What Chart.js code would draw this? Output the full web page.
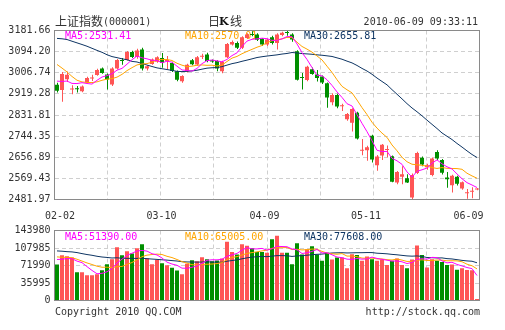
<!DOCTYPE html>
<html>
<head>
<meta charset="utf-8">
<title>上证指数 日K线</title>
<script src="https://cdn.jsdelivr.net/npm/chart.js@4.4.1/dist/chart.umd.min.js"></script>
<style>
  html, body { margin: 0; padding: 0; background: #ffffff; }
  #wrap { position: relative; width: 505px; height: 330px; overflow: hidden; }
  #wrap canvas { position: absolute; left: 0; }
  #priceCanvas { top: 0; }
  #volumeCanvas { top: 215px; }
</style>
</head>
<body>
<div id="wrap">
  <canvas id="priceCanvas" width="505" height="225"></canvas>
  <canvas id="volumeCanvas" width="505" height="115"></canvas>
</div>
<script>
// ---- Shanghai Composite (000001), daily sessions 2010-02-02 .. 2010-06-09 ----
const dates = [
  '02-02','02-03','02-04','02-05','02-08','02-09','02-10','02-11','02-12','02-22','02-23','02-24','02-25','02-26',
  '03-01','03-02','03-03','03-04','03-05','03-08','03-09','03-10','03-11','03-12','03-15','03-16','03-17','03-18','03-19',
  '03-22','03-23','03-24','03-25','03-26','03-29','03-30','03-31',
  '04-01','04-02','04-06','04-07','04-08','04-09','04-12','04-13','04-14','04-15','04-16','04-19','04-20','04-21','04-22','04-23',
  '04-26','04-27','04-28','04-29','04-30',
  '05-04','05-05','05-06','05-07','05-10','05-11','05-12','05-13','05-14','05-17','05-18','05-19','05-20','05-21',
  '05-24','05-25','05-26','05-27','05-28','05-31',
  '06-01','06-02','06-03','06-04','06-07','06-08','06-09'
];

const opens = [
  2957,2935,2980,2937,2942,2930,2966,2983,2997,3024,
  2999,2958,3024,3058,3060,3093,3072,3103,3024,3043,
  3052,3068,3055,3047,3013,2972,3012,3058,3041,3073,
  3082,3058,3055,3013,3071,3124,3130,3110,3151,3167,
  3165,3147,3124,3154,3130,3163,3175,3165,3096,2988,
  2977,3021,2999,2991,2963,2885,2915,2868,2814,2800,
  2841,2684,2686,2746,2624,2664,2687,2661,2552,2576,
  2570,2490,2592,2655,2616,2583,2679,2645,2573,2541,
  2576,2527,2508,2514,2523
];
const highs = [
  2965,3010,3012,2955,2952,2954,2990,2998,3023,3028,
  3004,3030,3064,3068,3097,3098,3106,3110,3038,3066,
  3075,3089,3076,3052,3016,2996,3044,3064,3076,3085,
  3090,3062,3058,3056,3130,3140,3136,3158,3170,3179,
  3170,3150,3148,3160,3170,3176,3181.66,3170,3100,3006,
  3036,3028,3018,2995,2966,2922,2920,2878,2840,2860,
  2845,2732,2704,2750,2666,2712,2706,2664,2600,2620,
  2587,2590,2680,2660,2630,2656,2686,2650,2596,2584,
  2580,2556,2525,2533,2530
];
const lows = [
  2925,2887,2968,2918,2925,2926,2962,2973,2994,3003,
  2937,2952,3020,3040,3057,3068,3065,3016,3016,3040,
  3048,3027,3021,3010,2972,2965,3008,3038,3036,3064,
  3050,3048,3013,3005,3068,3120,3105,3105,3147,3158,
  3138,3118,3118,3124,3103,3158,3160,3135,2975,2937,
  2972,2998,2970,2960,2862,2872,2860,2848,2808,2763,
  2730,2665,2642,2635,2601,2645,2657,2553,2545,2545,
  2550,2481.97,2588,2620,2605,2578,2645,2585,2531,2511,
  2540,2522,2485,2487,2520
];
const closes = [
  2932,3002,2998,2940,2938,2950,2985,2986,3018,3006,
  2979,3024,3060,3055,3093,3072,3099,3024,3034,3062,
  3071,3048,3058,3014,2978,2993,3040,3042,3071,3076,
  3055,3053,3024,3052,3126,3134,3110,3154,3165,3163,
  3143,3124,3144,3130,3165,3172,3171,3144,2978,2985,
  3032,3002,2985,2966,2904,2915,2867,2871,2836,2857,
  2735,2688,2698,2648,2660,2709,2690,2555.8,2596,2587,
  2552,2583.5,2675,2627,2624,2652,2652,2593,2566,2580,
  2547.30,2553.47,2511.82,2517.12,2527.34
];
const volumes = [
  74000,93200,91200,88400,58300,58300,52100,52100,54200,62400,
  74700,85000,109700,93200,101500,96700,107600,115900,86400,74700,
  83600,76800,72700,67200,61700,54200,75400,83000,80900,89100,
  85000,80900,82300,86400,120700,100000,94600,115900,112400,107600,
  100000,100000,98000,126000,133000,98000,98000,74700,118000,94600,
  105600,111800,94600,81600,98000,84100,88500,88500,66200,95300,
  93700,81800,90700,84800,81800,84100,72900,81800,86300,72900,
  66200,84100,113000,93700,67790,85000,82000,79000,73000,74100,
  63000,66500,62500,62000,2950
];

// sessions before 02-02 (late Dec 2009 .. 02-01), used only to seed the moving averages
const prevCloses = [
  3049,3089,3153,3141,3154,3201,3241,3277,
  3244,3282,3254,3193,3196,3213,3274,3173,3216,3224,3237,3247,
  3151,3158,3128,3094,3019,3008,2990,2989,2941
];
const prevVolumes = [
  112000,118500,104300,99800,121000,109600,98700,115200,107400,101900,
  118800,96500,124300,103700,99100,110800,105600,112900,97800,105100,
  101200,92700,96800,88400,96400,90300,84600,89100,83500
];

// axis tick labels
const priceTicks = [3181.66, 3094.20, 3006.74, 2919.28, 2831.81, 2744.35, 2656.89, 2569.43, 2481.97];
const volumeTicks = [143980, 107985, 71990, 35995, 0];
const xTickLabels = ['02-02', '03-10', '04-09', '05-11', '06-09'];

// ---- styling / layout ----
const RED = '#ff5555';
const GREEN = '#008f00';
const MA5_COLOR = '#ff00ff';
const MA10_COLOR = '#ffa500';
const MA30_COLOR = '#0e3563';
const GRID = '#cfcfcf';
const FRAME = '#8a8a8a';
const TEXT = '#333333';
const MONO = '"DejaVu Sans Mono", "Liberation Mono", monospace';
const CJK = '"Noto Sans CJK SC", "Noto Sans", sans-serif';
const N = dates.length;
const PLOT_LEFT = 54.5;      // width reserved for the value axis
const PLOT_RIGHT_PAD = 25.5;
const X_LABEL_POS = [0.6, 20.9, 41.5, 61.8, 82.3]; // where the date captions sit, in session units

function movingAverage(series, history, n) {
  const all = history.concat(series);
  const off = history.length;
  return series.map((_, i) => {
    let s = 0;
    for (let k = off + i - n + 1; k <= off + i; k++) s += all[k];
    return s / n;
  });
}

const ma5 = movingAverage(closes, prevCloses, 5);
const ma10 = movingAverage(closes, prevCloses, 10);
const ma30 = movingAverage(closes, prevCloses, 30);
const vma5 = movingAverage(volumes, prevVolumes, 5);
const vma10 = movingAverage(volumes, prevVolumes, 10);
const vma30 = movingAverage(volumes, prevVolumes, 30);

const candleColors = closes.map((c, i) => (c >= opens[i] ? RED : GREEN));
const pts = arr => arr.map((v, i) => ({ x: i, y: v }));

// shared x-axis pieces
function gridXAxis(height) {
  return {
    type: 'linear', position: 'bottom', min: -0.5, max: N - 0.5, offset: false,
    grid: { color: GRID, lineWidth: 1, drawTicks: false, offset: false },
    border: { display: false, dash: [4, 3] },
    ticks: { display: false },
    afterBuildTicks(s) { s.ticks = Array.from({ length: 9 }, (_, k) => ({ value: -0.5 + k * N / 8 })); },
    afterFit(s) { s.height = height; }
  };
}
function valueAxis(ticks, fmt) {
  return {
    type: 'linear', position: 'left', min: ticks[ticks.length - 1], max: ticks[0],
    grid: { color: GRID, lineWidth: 1, drawTicks: false },
    border: { display: false, dash: [4, 3] },
    ticks: { font: { family: MONO, size: 10 }, color: TEXT, padding: 4, callback: fmt },
    afterBuildTicks(s) { s.ticks = ticks.map(v => ({ value: v })); },
    afterFit(s) { s.width = PLOT_LEFT; }
  };
}
function maLine(data, color) {
  return {
    type: 'line', data: pts(data), xAxisID: 'x', yAxisID: 'y',
    borderColor: color, borderWidth: 1, pointRadius: 0, tension: 0, order: 0, fill: false
  };
}
function frame(chart) {
  const { left, top, right, bottom } = chart.chartArea;
  const ctx = chart.ctx;
  ctx.save();
  ctx.strokeStyle = FRAME;
  ctx.lineWidth = 1;
  ctx.strokeRect(left, top, right - left, bottom - top);
  ctx.restore();
}
function maCaptions(chart, y, items) {
  const ctx = chart.ctx;
  ctx.save();
  ctx.font = '10px ' + MONO;
  ctx.textBaseline = 'middle';
  ctx.textAlign = 'left';
  items.forEach(([text, x, color]) => { ctx.fillStyle = color; ctx.fillText(text, x, y); });
  ctx.restore();
}

// ---- price (K-line) chart ----
const pricePlugin = {
  id: 'priceDecor',
  beforeDatasetsDraw(chart) {
    maCaptions(chart, 36, [
      ['MA5:' + ma5[N - 1].toFixed(2), 65, MA5_COLOR],
      ['MA10:' + ma10[N - 1].toFixed(2), 185, MA10_COLOR],
      ['MA30:' + ma30[N - 1].toFixed(2), 304, MA30_COLOR]
    ]);
  },
  afterDraw(chart) {
    frame(chart);
    const ctx = chart.ctx;
    ctx.save();
    ctx.textBaseline = 'middle';
    ctx.fillStyle = TEXT;
    ctx.textAlign = 'left';
    ctx.font = '12px ' + CJK;
    ctx.fillText('上证指数', 55, 21.5);
    const w = ctx.measureText('上证指数').width;
    ctx.font = '10px ' + MONO;
    ctx.fillText('(000001)', 55 + w, 22);
    // 日K线
    ctx.font = '12px ' + CJK;
    ctx.fillText('日', 208, 21.5);
    ctx.font = 'bold 11px "DejaVu Serif", serif';
    ctx.fillStyle = '#111111';
    ctx.fillText('K', 219, 22);
    ctx.fillStyle = TEXT;
    ctx.font = '12px ' + CJK;
    ctx.fillText('线', 230, 21.5);
    ctx.font = '10px ' + MONO;
    ctx.textAlign = 'right';
    ctx.fillText('2010-06-09 09:33:11', 478, 22);
    ctx.restore();
  }
};

new Chart(document.getElementById('priceCanvas'), {
  type: 'bar',
  data: {
    datasets: [
      maLine(ma5, MA5_COLOR),
      maLine(ma10, MA10_COLOR),
      maLine(ma30, MA30_COLOR),
      {
        type: 'bar', data: opens.map((o, i) => ({ x: i, y: [o, closes[i]] })),
        xAxisID: 'x', yAxisID: 'y', backgroundColor: candleColors, borderWidth: 0,
        barThickness: 4, grouped: false, minBarLength: 1, inflateAmount: 0, order: 1
      },
      {
        type: 'bar', data: lows.map((l, i) => ({ x: i, y: [l, highs[i]] })),
        xAxisID: 'xw', yAxisID: 'y', backgroundColor: candleColors, borderWidth: 0,
        barThickness: 1, grouped: false, minBarLength: 1, inflateAmount: 0, order: 2
      }
    ]
  },
  options: {
    responsive: false, maintainAspectRatio: false, animation: false, devicePixelRatio: 1, events: [],
    layout: { padding: { top: 30.5, right: PLOT_RIGHT_PAD, bottom: 0, left: 0 } },
    plugins: { legend: { display: false }, tooltip: { enabled: false } },
    scales: {
      x: gridXAxis(0),
      xl: {
        type: 'linear', position: 'bottom', min: -0.5, max: N - 0.5, offset: false,
        grid: { display: false, drawTicks: false }, border: { display: false },
        ticks: {
          font: { family: MONO, size: 10 }, color: TEXT, padding: 11, maxRotation: 0, autoSkip: false,
          callback: (v, i) => xTickLabels[i]
        },
        afterBuildTicks(s) { s.ticks = X_LABEL_POS.map(v => ({ value: v })); },
        afterFit(s) { s.height = 25.5; }
      },
      // wick axis: same sessions, centred on the body's inner pixel column
      xw: { type: 'linear', display: false, min: -0.6, max: N - 0.6, offset: false },
      y: valueAxis(priceTicks, v => v.toFixed(2))
    }
  },
  plugins: [pricePlugin]
});

// ---- volume chart ----
const volumePlugin = {
  id: 'volumeDecor',
  beforeDatasetsDraw(chart) {
    maCaptions(chart, 22.5, [
      ['MA5:' + vma5[N - 1].toFixed(2), 65, MA5_COLOR],
      ['MA10:' + vma10[N - 1].toFixed(2), 185, MA10_COLOR],
      ['MA30:' + vma30[N - 1].toFixed(2), 304, MA30_COLOR]
    ]);
  },
  afterDraw(chart) {
    frame(chart);
    const ctx = chart.ctx;
    ctx.save();
    ctx.font = '10px ' + MONO;
    ctx.fillStyle = TEXT;
    ctx.textBaseline = 'middle';
    ctx.textAlign = 'left';
    ctx.fillText('Copyright 2010 QQ.COM', 55, 97);
    ctx.textAlign = 'right';
    ctx.fillText('http://stock.qq.com', 480, 97);
    ctx.restore();
  }
};

new Chart(document.getElementById('volumeCanvas'), {
  type: 'bar',
  data: {
    datasets: [
      maLine(vma5, MA5_COLOR),
      maLine(vma10, MA10_COLOR),
      maLine(vma30, MA30_COLOR),
      {
        type: 'bar', data: pts(volumes), xAxisID: 'x', yAxisID: 'y',
        backgroundColor: candleColors, borderWidth: 0, barThickness: 4, grouped: false,
        minBarLength: 1, inflateAmount: 0, order: 1
      }
    ]
  },
  options: {
    responsive: false, maintainAspectRatio: false, animation: false, devicePixelRatio: 1, events: [],
    layout: { padding: { top: 15.5, right: PLOT_RIGHT_PAD, bottom: 0, left: 0 } },
    plugins: { legend: { display: false }, tooltip: { enabled: false } },
    scales: {
      x: gridXAxis(29.5),
      y: valueAxis(volumeTicks, v => String(v))
    }
  },
  plugins: [volumePlugin]
});
</script>
</body>
</html>
